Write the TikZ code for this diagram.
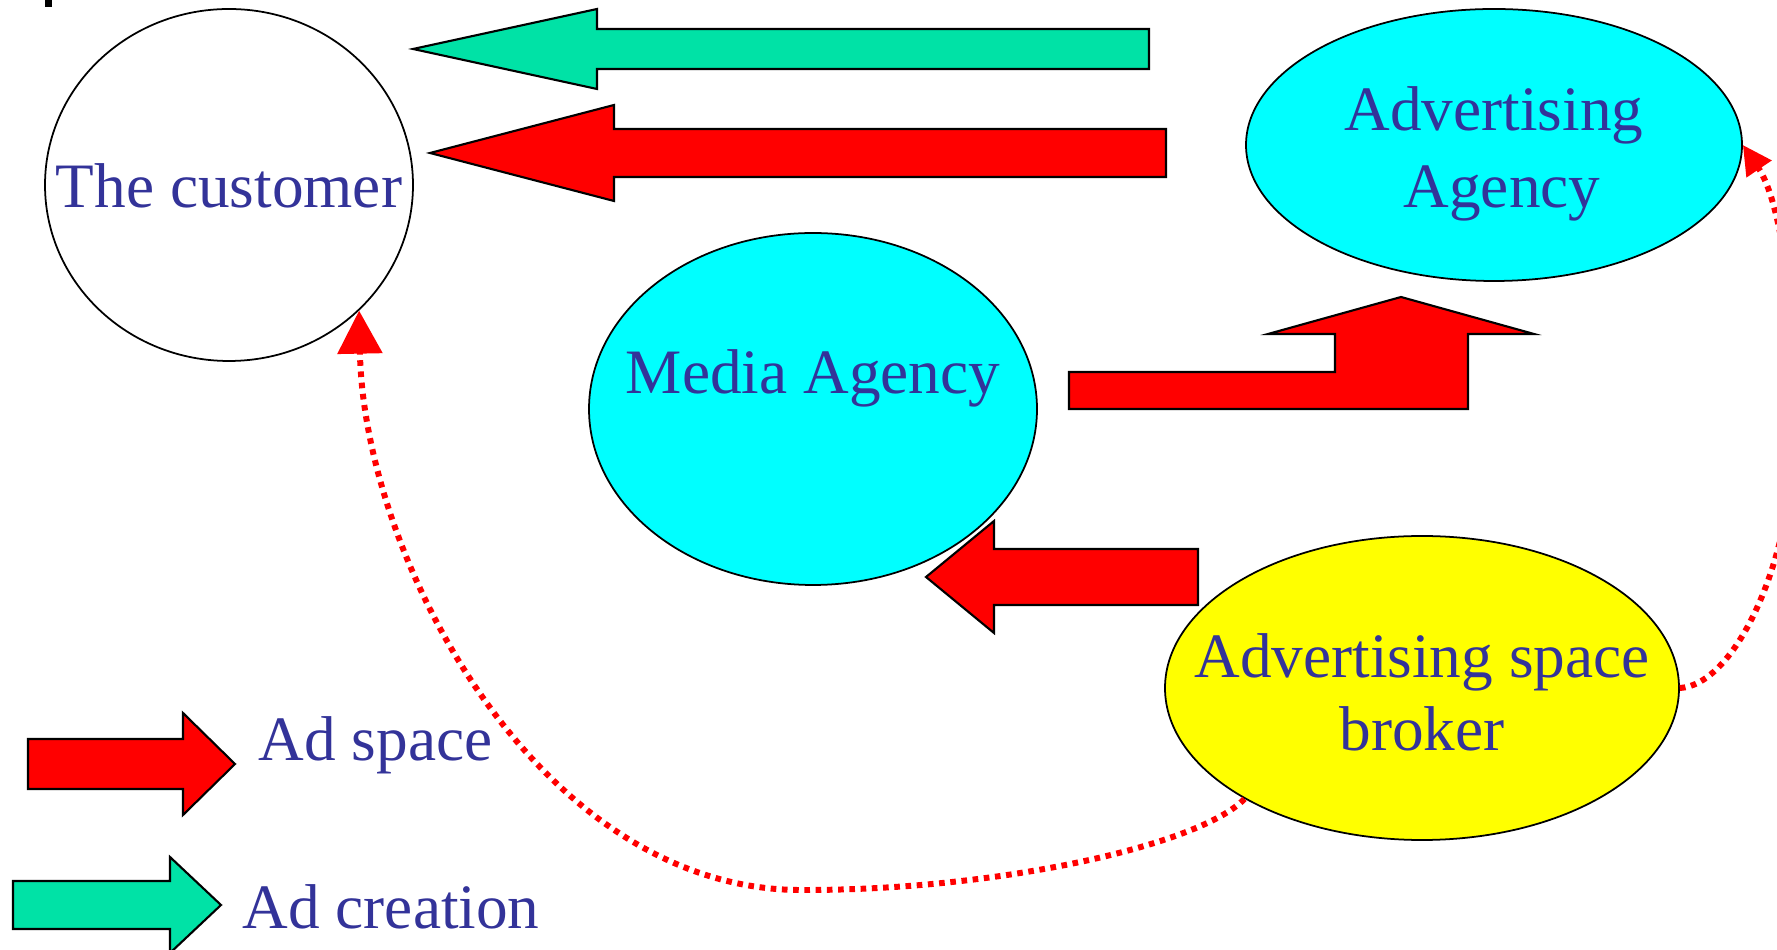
\documentclass[tikz,border=0pt]{standalone}
\usepackage{fontspec}
\setmainfont{Liberation Serif}
\usepackage{tikz}
\usetikzlibrary{arrows.meta,shapes.geometric,positioning}
\definecolor{agentblue}{RGB}{51,51,153}
\definecolor{adgreen}{RGB}{0,226,166}
\definecolor{agentcyan}{RGB}{0,255,255}
\definecolor{agentyellow}{RGB}{255,255,0}

% block arrow: style, tip x, y, head base x, head half, shaft half, tail x
\newcommand{\harrow}[7]{%
  \draw[#1] (#2,#3) -- (#4,#3-#5) -- (#4,#3-#6) -- (#7,#3-#6)
    -- (#7,#3+#6) -- (#4,#3+#6) -- (#4,#3+#5) -- cycle;}

\begin{document}
\begin{tikzpicture}[
    x=0.1mm, y=-0.1mm,
    font=\fontsize{18}{21.8}\selectfont,
    agent/.style={
		ellipse,
		draw=black,
		line width=0.5pt,
		inner sep=0pt
	},
	agentname/.style={
		text=agentblue,
		inner sep=0pt,
		align=center
	},
	spacearrow/.style={
		draw=black,
		line width=0.6pt,
		fill=red
	},
	creationarrow/.style={
		draw=black,
		line width=0.6pt,
		fill=adgreen
	},
	flowline/.style={
		red,
		line width=1.7pt,
		dash pattern=on 1.6pt off 1.6pt
	}
  ]
  \useasboundingbox (0,0) rectangle (1777,950);
  \clip (0,0) rectangle (1777,950);
  \fill (45,0) rectangle (52,7);

    % We start by placing the agents
  \node [agent, fill=white, minimum width=36.8mm, minimum height=35.2mm] (customer) at (229,185) {};
  \node [agent, fill=agentcyan, minimum width=49.6mm, minimum height=27.2mm] (adagency) at (1494,145) {};
  \node [agent, fill=agentcyan, minimum width=44.8mm, minimum height=35.2mm] (media) at (813,409) {};
  \node [agent, fill=agentyellow, minimum width=51.4mm, minimum height=30.4mm] (broker) at (1422,688) {};

  \node [agentname, anchor=base] (customertext) at (229,208) {The customer};
  \node [agentname, font=\fontsize{18}{21.9}\selectfont] (adagencytext) at (1494,154) {Advertising\\\hspace*{1.6mm}Agency};
  \node [agentname, anchor=base] (mediatext) at (813,394) {Media Agency};
  \node [agentname, font=\fontsize{18}{20.8}\selectfont] (brokertext) at (1422,692) {Advertising space\\broker};

  % the block arrows
  \harrow{creationarrow}{413}{49}{597}{40}{20}{1149}
  \harrow{spacearrow}{430}{153}{614}{48}{24}{1166}
  \harrow{spacearrow}{926}{577}{994}{56}{28}{1198}
  \draw [spacearrow] (1069,372) -- (1335,372) -- (1335,334) -- (1268,334) -- (1401,297)
    -- (1534,334) -- (1468,334) -- (1468,409) -- (1069,409) -- cycle;

  % dotted connectors from the broker
  \draw [flowline, -{Triangle[length=4.3mm,width=4.4mm]}] (broker.-148)
    .. controls (1200,845) and (1000,890) .. (805,890)
    .. controls (540,893) and (364,560) .. (customer.-44);
  \draw [flowline, -{Triangle[length=2.9mm,width=2.9mm]}] (broker.east)
    .. controls (1735,685) and (1795,560) .. (1795,420)
    .. controls (1795,300) and (1780,200) .. (adagency.east);

  % legend
  \harrow{spacearrow}{235}{764}{183}{51}{25}{28}
  \harrow{creationarrow}{221}{905}{170}{48}{24}{13}
  \node [agentname, anchor=base west] (spacelabel) at (258,761) {Ad space};
  \node [agentname, anchor=base west] (creationlabel) at (242,928) {Ad creation};

\end{tikzpicture}
\end{document}
